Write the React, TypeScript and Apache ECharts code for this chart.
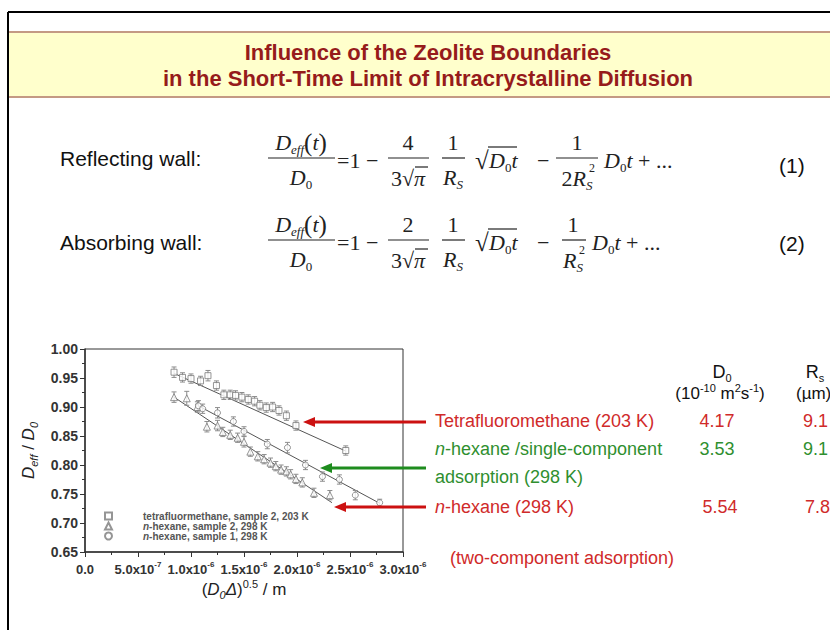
import React, { useEffect, useRef } from 'react';
import * as echarts from 'echarts';

// ---------- data ----------
const xTickLabels = ['0.0', '5.0x10^-7', '1.0x10^-6', '1.5x10^-6', '2.0x10^-6', '2.5x10^-6', '3.0x10^-6'];

// x values in units of 1e-6 m
const tetraX = [0.84, 0.92, 1.0, 1.09, 1.16, 1.24, 1.31, 1.37, 1.42, 1.48, 1.54, 1.6, 1.65, 1.71, 1.77, 1.83, 1.9, 1.99, 2.46];
const tetraY = [0.96, 0.951, 0.949, 0.945, 0.954, 0.937, 0.921, 0.921, 0.92, 0.917, 0.913, 0.91, 0.903, 0.899, 0.9, 0.894, 0.885, 0.868, 0.825];
const tetraErr = [0.009, 0.008, 0.008, 0.008, 0.009, 0.008, 0.008, 0.008, 0.008, 0.008, 0.008, 0.008, 0.008, 0.008, 0.008, 0.008, 0.008, 0.008, 0.008];

const hex2X = [0.84, 0.96, 1.06, 1.15, 1.25, 1.3, 1.37, 1.44, 1.5, 1.56, 1.63, 1.69, 1.75, 1.8, 1.85, 1.9, 1.94, 1.99, 2.05, 2.16, 2.31];
const hex2Y = [0.917, 0.915, 0.9, 0.866, 0.868, 0.857, 0.852, 0.847, 0.84, 0.823, 0.815, 0.81, 0.804, 0.798, 0.792, 0.789, 0.784, 0.776, 0.77, 0.752, 0.748];
const hex2Err = [0.009, 0.012, 0.009, 0.009, 0.009, 0.008, 0.008, 0.008, 0.009, 0.008, 0.008, 0.008, 0.008, 0.008, 0.008, 0.008, 0.008, 0.008, 0.008, 0.008, 0.008];

const hex1X = [1.07, 1.11, 1.25, 1.4, 1.5, 1.72, 1.91, 2.08, 2.24, 2.4, 2.55, 2.78];
const hex1Y = [0.902, 0.897, 0.89, 0.875, 0.858, 0.836, 0.83, 0.8, 0.78, 0.775, 0.748, 0.735];
const hex1Err = [0.009, 0.008, 0.009, 0.008, 0.008, 0.008, 0.009, 0.008, 0.008, 0.008, 0.008, 0.006];

const tetraFit = [[0.84, 0.958], [2.46, 0.824]];
const hex1Fit = [[1.04, 0.905], [2.78, 0.734]];
const hex2Fit = [[0.84, 0.917], [2.33, 0.735]];

const seriesNames = ['tetrafluormethane, sample 2, 203 K', 'n-hexane, sample 2, 298 K', 'n-hexane, sample 1, 298 K'];

const rowLabels = ['Tetrafluoromethane (203 K)', 'n-hexane /single-component', 'adsorption (298 K)', 'n-hexane (298 K)'];
const d0Values = ['4.17', '3.53', '5.54'];
const rsValues = ['9.1', '9.1', '7.8'];

// ---------- helpers ----------
const SANS = '"Liberation Sans", Arial, sans-serif';
const SERIF = '"Liberation Serif", "Times New Roman", serif';
const RED = '#d02a2a';
const GREEN = '#2f8f2f';

const zip = (xs: number[], ys: number[], es: number[]) => xs.map((x, i) => [x, ys[i], es[i]]);

const eqRich = {
  i: { fontFamily: SERIF, fontStyle: 'italic', fontSize: 22, lineHeight: 28, fill: '#222' },
  n: { fontFamily: SERIF, fontSize: 22, lineHeight: 28, fill: '#222' },
  p: { fontFamily: SERIF, fontSize: 25, lineHeight: 28, fill: '#222' },
  s: { fontFamily: SERIF, fontStyle: 'italic', fontSize: 13, lineHeight: 14, verticalAlign: 'bottom', fill: '#222' },
  s0: { fontFamily: SERIF, fontSize: 13, lineHeight: 14, verticalAlign: 'bottom', fill: '#222' },
};

const T = (x: number, y: number, text: string, style: any = {}) => ({
  type: 'text',
  x,
  y,
  z: 100,
  silent: true,
  style: { text, fill: '#111', font: `20px ${SANS}`, align: 'left', verticalAlign: 'middle', ...style },
});
const L = (x1: number, y1: number, x2: number, y2: number, stroke = '#222', lineWidth = 1.2) => ({
  type: 'line',
  z: 100,
  silent: true,
  shape: { x1, y1, x2, y2 },
  style: { stroke, lineWidth },
});
const EQ = (x: number, y: number, text: string, align = 'left', extra: any = {}) =>
  T(x, y, text, { rich: eqRich, align, ...extra });

const equation = (yc: number, coef: string, second: 'a' | 'b') => {
  const els: any[] = [];
  els.push(EQ(301, yc - 16, '{i|D}{s|eff}{p|(}{i|t}{p|)}', 'center'));
  els.push(L(268, yc, 335, yc));
  els.push(EQ(301, yc + 19, '{i|D}{s0|0}', 'center'));
  els.push(EQ(337, yc + 2, '{n|=1 −}'));
  // coefficient fraction
  els.push(EQ(408, yc - 16, `{n|${coef}}`, 'center'));
  els.push(L(388, yc, 429, yc));
  els.push(EQ(408, yc + 20, '{n|3√}{i|π}', 'center'));
  els.push(L(415, yc + 9, 428, yc + 9));
  // 1 / R_S
  els.push(EQ(453, yc - 16, '{n|1}', 'center'));
  els.push(L(442, yc, 465, yc));
  els.push(EQ(453, yc + 19, '{i|R}{s|S}', 'center'));
  // sqrt(D0 t)
  els.push(EQ(475, yc + 2, '{p|√}'));
  els.push(L(488, yc - 11, 517, yc - 11));
  els.push(EQ(489, yc + 2, '{i|D}{s0|0}{i|t}'));
  els.push(EQ(537, yc + 2, '{n|−}'));
  if (second === 'a') {
    els.push(EQ(577, yc - 16, '{n|1}', 'center'));
    els.push(L(556, yc, 598, yc));
    els.push(EQ(577, yc + 20, '{n|2}{i|R}{s|S}', 'center'));
    els.push(T(589, yc + 10, '2', { font: `12px ${SERIF}`, fill: '#222' }));
    els.push(EQ(604, yc + 2, '{i|D}{s0|0}{i|t}{n| + ...}'));
  } else {
    els.push(EQ(573, yc - 16, '{n|1}', 'center'));
    els.push(L(562, yc, 586, yc));
    els.push(EQ(573, yc + 20, '{i|R}{s|S}', 'center'));
    els.push(T(579, yc + 10, '2', { font: `12px ${SERIF}`, fill: '#222' }));
    els.push(EQ(592, yc + 2, '{i|D}{s0|0}{i|t}{n| + ...}'));
  }
  return els;
};

const arrow = (yc: number, tail: number, tip: number, color: string) => [
  L(tail, yc, tip + 10, yc, color, 3),
  {
    type: 'polygon',
    z: 100,
    silent: true,
    shape: { points: [[tip, yc], [tip + 12, yc - 5], [tip + 12, yc + 5]] },
    style: { fill: color },
  },
];

const errRender = (params: any, api: any) => {
  const x = api.value(0);
  const y = api.value(1);
  const e = api.value(2);
  const p1 = api.coord([x, y + e]);
  const p2 = api.coord([x, y - e]);
  const w = 2.5;
  const st = { stroke: '#8c8c8c', lineWidth: 1 };
  return {
    type: 'group',
    children: [
      { type: 'line', shape: { x1: p1[0], y1: p1[1], x2: p2[0], y2: p2[1] }, style: st },
      { type: 'line', shape: { x1: p1[0] - w, y1: p1[1], x2: p1[0] + w, y2: p1[1] }, style: st },
      { type: 'line', shape: { x1: p2[0] - w, y1: p2[1], x2: p2[0] + w, y2: p2[1] }, style: st },
    ],
  };
};

const markerStyle = { color: '#ffffff', borderColor: '#7a7a7a', borderWidth: 1 };
const fitStyle = { color: '#555', width: 1 };

export default function App() {
  const ref = useRef<HTMLDivElement>(null);
  useEffect(() => {
    if (!ref.current) return;
    const chart = echarts.init(ref.current, undefined, { renderer: 'svg' });

    const sub = { fontSize: 11, lineHeight: 10, verticalAlign: 'bottom', fontFamily: SANS, fontStyle: 'italic', color: '#222' };
    const graphics: any[] = [
      // frame
      L(8, 12, 830, 12, '#000', 2),
      L(8, 12, 8, 630, '#000', 2),
      // title band
      { type: 'rect', z: 1, silent: true, shape: { x: 9, y: 32, width: 821, height: 65 }, style: { fill: '#ffffcc' } },
      L(9, 32, 830, 32, '#c49a84', 2),
      L(9, 97, 830, 97, '#c49a84', 2),
      T(428, 52, 'Influence of the Zeolite Boundaries', { align: 'center', font: `bold 22px ${SANS}`, fill: '#961b1b' }),
      T(428, 78, 'in the Short-Time Limit of Intracrystalline Diffusion', { align: 'center', font: `bold 22px ${SANS}`, fill: '#961b1b' }),
      // equations
      T(60, 158, 'Reflecting wall:', { font: `21px ${SANS}` }),
      T(60, 242, 'Absorbing wall:', { font: `21px ${SANS}` }),
      ...equation(158, '4', 'a'),
      ...equation(240, '2', 'b'),
      T(779, 165, '(1)', { font: `21px ${SANS}` }),
      T(779, 243, '(2)', { font: `21px ${SANS}` }),
      // table header
      T(722, 372, '{a|D}{b|0}', {
        align: 'center',
        rich: { a: { fontSize: 18, fontFamily: SANS, lineHeight: 22 }, b: { fontSize: 11, fontFamily: SANS, lineHeight: 10, verticalAlign: 'bottom' } },
      }),
      T(720, 393, '{a|(10}{b|-10}{a| m}{b|2}{a|s}{b|-1}{a|)}', {
        align: 'center',
        rich: { a: { fontSize: 17, fontFamily: SANS, lineHeight: 22 }, b: { fontSize: 11, fontFamily: SANS, lineHeight: 12, verticalAlign: 'top' } },
      }),
      T(815, 372, '{a|R}{b|s}', {
        align: 'center',
        rich: { a: { fontSize: 18, fontFamily: SANS, lineHeight: 22 }, b: { fontSize: 11, fontFamily: SANS, lineHeight: 10, verticalAlign: 'bottom' } },
      }),
      T(796, 393, '(µm)', { align: 'left', font: `17px ${SANS}` }),
      // rows
      T(435, 421, rowLabels[0], { font: `18px ${SANS}`, fill: RED }),
      T(435, 449, `{it|n}{t|${rowLabels[1].slice(1)}}`, {
        rich: { it: { fontSize: 18, fontFamily: SANS, fontStyle: 'italic', fill: GREEN }, t: { fontSize: 18, fontFamily: SANS, fill: GREEN } },
      }),
      T(435, 477, rowLabels[2], { font: `18px ${SANS}`, fill: GREEN }),
      T(435, 507, `{it|n}{t|${rowLabels[3].slice(1)}}`, {
        rich: { it: { fontSize: 18, fontFamily: SANS, fontStyle: 'italic', fill: RED }, t: { fontSize: 18, fontFamily: SANS, fill: RED } },
      }),
      T(717, 421, d0Values[0], { align: 'center', font: `18px ${SANS}`, fill: RED }),
      T(717, 449, d0Values[1], { align: 'center', font: `18px ${SANS}`, fill: GREEN }),
      T(720, 507, d0Values[2], { align: 'center', font: `18px ${SANS}`, fill: RED }),
      T(803, 421, rsValues[0], { font: `18px ${SANS}`, fill: RED }),
      T(803, 449, rsValues[1], { font: `18px ${SANS}`, fill: GREEN }),
      T(805, 507, rsValues[2], { font: `18px ${SANS}`, fill: RED }),
      T(450, 558, '(two-component adsorption)', { font: `18px ${SANS}`, fill: RED }),
      // arrows
      ...arrow(422, 426, 303, '#cc1111'),
      ...arrow(468, 426, 320, '#1e8c1e'),
      ...arrow(507, 426, 334, '#cc1111'),
    ];

    const option: any = {
      animation: false,
      backgroundColor: '#ffffff',
      grid: { left: 85, top: 349, right: 427, bottom: 78, show: true, borderColor: '#333', borderWidth: 1, backgroundColor: 'transparent' },
      legend: {
        data: seriesNames,
        orient: 'vertical',
        left: 104,
        top: 511,
        padding: 0,
        itemWidth: 7,
        itemHeight: 7,
        itemGap: 0,
        formatter: (name: string) =>
          name.startsWith('n-') ? `{g| }{it|n}{t|${name.slice(1)}}` : `{g| }{t|${name}}`,
        textStyle: {
          rich: {
            g: { width: 26, fontSize: 10, lineHeight: 9 },
            t: { fontSize: 10, fontFamily: SANS, fontWeight: 'bold', color: '#555', lineHeight: 9 },
            it: { fontSize: 10, fontFamily: SANS, fontWeight: 'bold', fontStyle: 'italic', color: '#555', lineHeight: 9 },
          },
        },
      },
      xAxis: {
        type: 'value',
        min: 0,
        max: 3,
        interval: 0.5,
        splitLine: { show: false },
        axisLine: { show: true, onZero: false, lineStyle: { color: '#333', width: 1.5 } },
        axisTick: { show: true, inside: false, length: 5, lineStyle: { color: '#333' } },
        minorTick: { show: true, splitNumber: 2, length: 3, lineStyle: { color: '#333' } },
        axisLabel: {
          margin: 8,
          formatter: (v: number) => {
            const s = xTickLabels[Math.round(v / 0.5)] ?? '';
            const [m, e] = s.split('^');
            return e ? `{b|${m}}{sp|${e}}` : `{b|${m}}`;
          },
          rich: {
            b: { fontSize: 13, fontWeight: 'bold', fontFamily: SANS, color: '#333', lineHeight: 18 },
            sp: { fontSize: 8, fontWeight: 'bold', fontFamily: SANS, color: '#333', lineHeight: 10, verticalAlign: 'top' },
          },
        },
        name: '{n|(}{i|D}{sub|0}{i|Δ}{n|)}{sup|0.5}{n| / m}',
        nameLocation: 'middle',
        nameGap: 26,
        nameTextStyle: {
          rich: {
            n: { fontSize: 17, fontFamily: SANS, color: '#222', lineHeight: 22 },
            i: { fontSize: 17, fontFamily: SANS, fontStyle: 'italic', color: '#222', lineHeight: 22 },
            sub: { ...sub },
            sup: { fontSize: 11, fontFamily: SANS, color: '#222', lineHeight: 10, verticalAlign: 'top' },
          },
        },
      },
      yAxis: {
        type: 'value',
        min: 0.65,
        max: 1.0,
        interval: 0.05,
        splitLine: { show: false },
        axisLine: { show: true, onZero: false, lineStyle: { color: '#333', width: 1.5 } },
        axisTick: { show: true, inside: false, length: 5, lineStyle: { color: '#333' } },
        minorTick: { show: true, splitNumber: 2, length: 3, lineStyle: { color: '#333' } },
        axisLabel: {
          margin: 7,
          formatter: (v: number) => v.toFixed(2),
          fontSize: 14,
          fontWeight: 'bold',
          fontFamily: SANS,
          color: '#333',
        },
        name: '{i|D}{sub|eff}{n| / }{i|D}{sub|0}',
        nameLocation: 'middle',
        nameGap: 46,
        nameRotate: 90,
        nameTextStyle: {
          rich: {
            n: { fontSize: 17, fontFamily: SANS, color: '#222', lineHeight: 22 },
            i: { fontSize: 17, fontFamily: SANS, fontStyle: 'italic', color: '#222', lineHeight: 22 },
            sub: { ...sub },
          },
        },
      },
      series: [
        { type: 'line', name: 'fit1', data: tetraFit, symbol: 'none', lineStyle: fitStyle, z: 2, silent: true },
        { type: 'line', name: 'fit2', data: hex2Fit, symbol: 'none', lineStyle: fitStyle, z: 2, silent: true },
        { type: 'line', name: 'fit3', data: hex1Fit, symbol: 'none', lineStyle: fitStyle, z: 2, silent: true },
        { type: 'custom', name: 'err1', renderItem: errRender, data: zip(tetraX, tetraY, tetraErr), encode: { x: 0, y: 1 }, z: 3, silent: true },
        { type: 'custom', name: 'err2', renderItem: errRender, data: zip(hex2X, hex2Y, hex2Err), encode: { x: 0, y: 1 }, z: 3, silent: true },
        { type: 'custom', name: 'err3', renderItem: errRender, data: zip(hex1X, hex1Y, hex1Err), encode: { x: 0, y: 1 }, z: 3, silent: true },
        { type: 'scatter', name: seriesNames[0], data: tetraX.map((x, i) => [x, tetraY[i]]), symbol: 'rect', symbolSize: 6, itemStyle: markerStyle, z: 4 },
        { type: 'scatter', name: seriesNames[1], data: hex2X.map((x, i) => [x, hex2Y[i]]), symbol: 'triangle', symbolSize: 7, itemStyle: markerStyle, z: 4 },
        { type: 'scatter', name: seriesNames[2], data: hex1X.map((x, i) => [x, hex1Y[i]]), symbol: 'circle', symbolSize: 6, itemStyle: markerStyle, z: 4 },
      ],
      graphic: graphics,
    };
    chart.setOption(option);
    return () => chart.dispose();
  }, []);
  return <div ref={ref} style={{ position: 'fixed', left: 0, top: 0, width: 830, height: 630, background: '#fff' }} />;
}
